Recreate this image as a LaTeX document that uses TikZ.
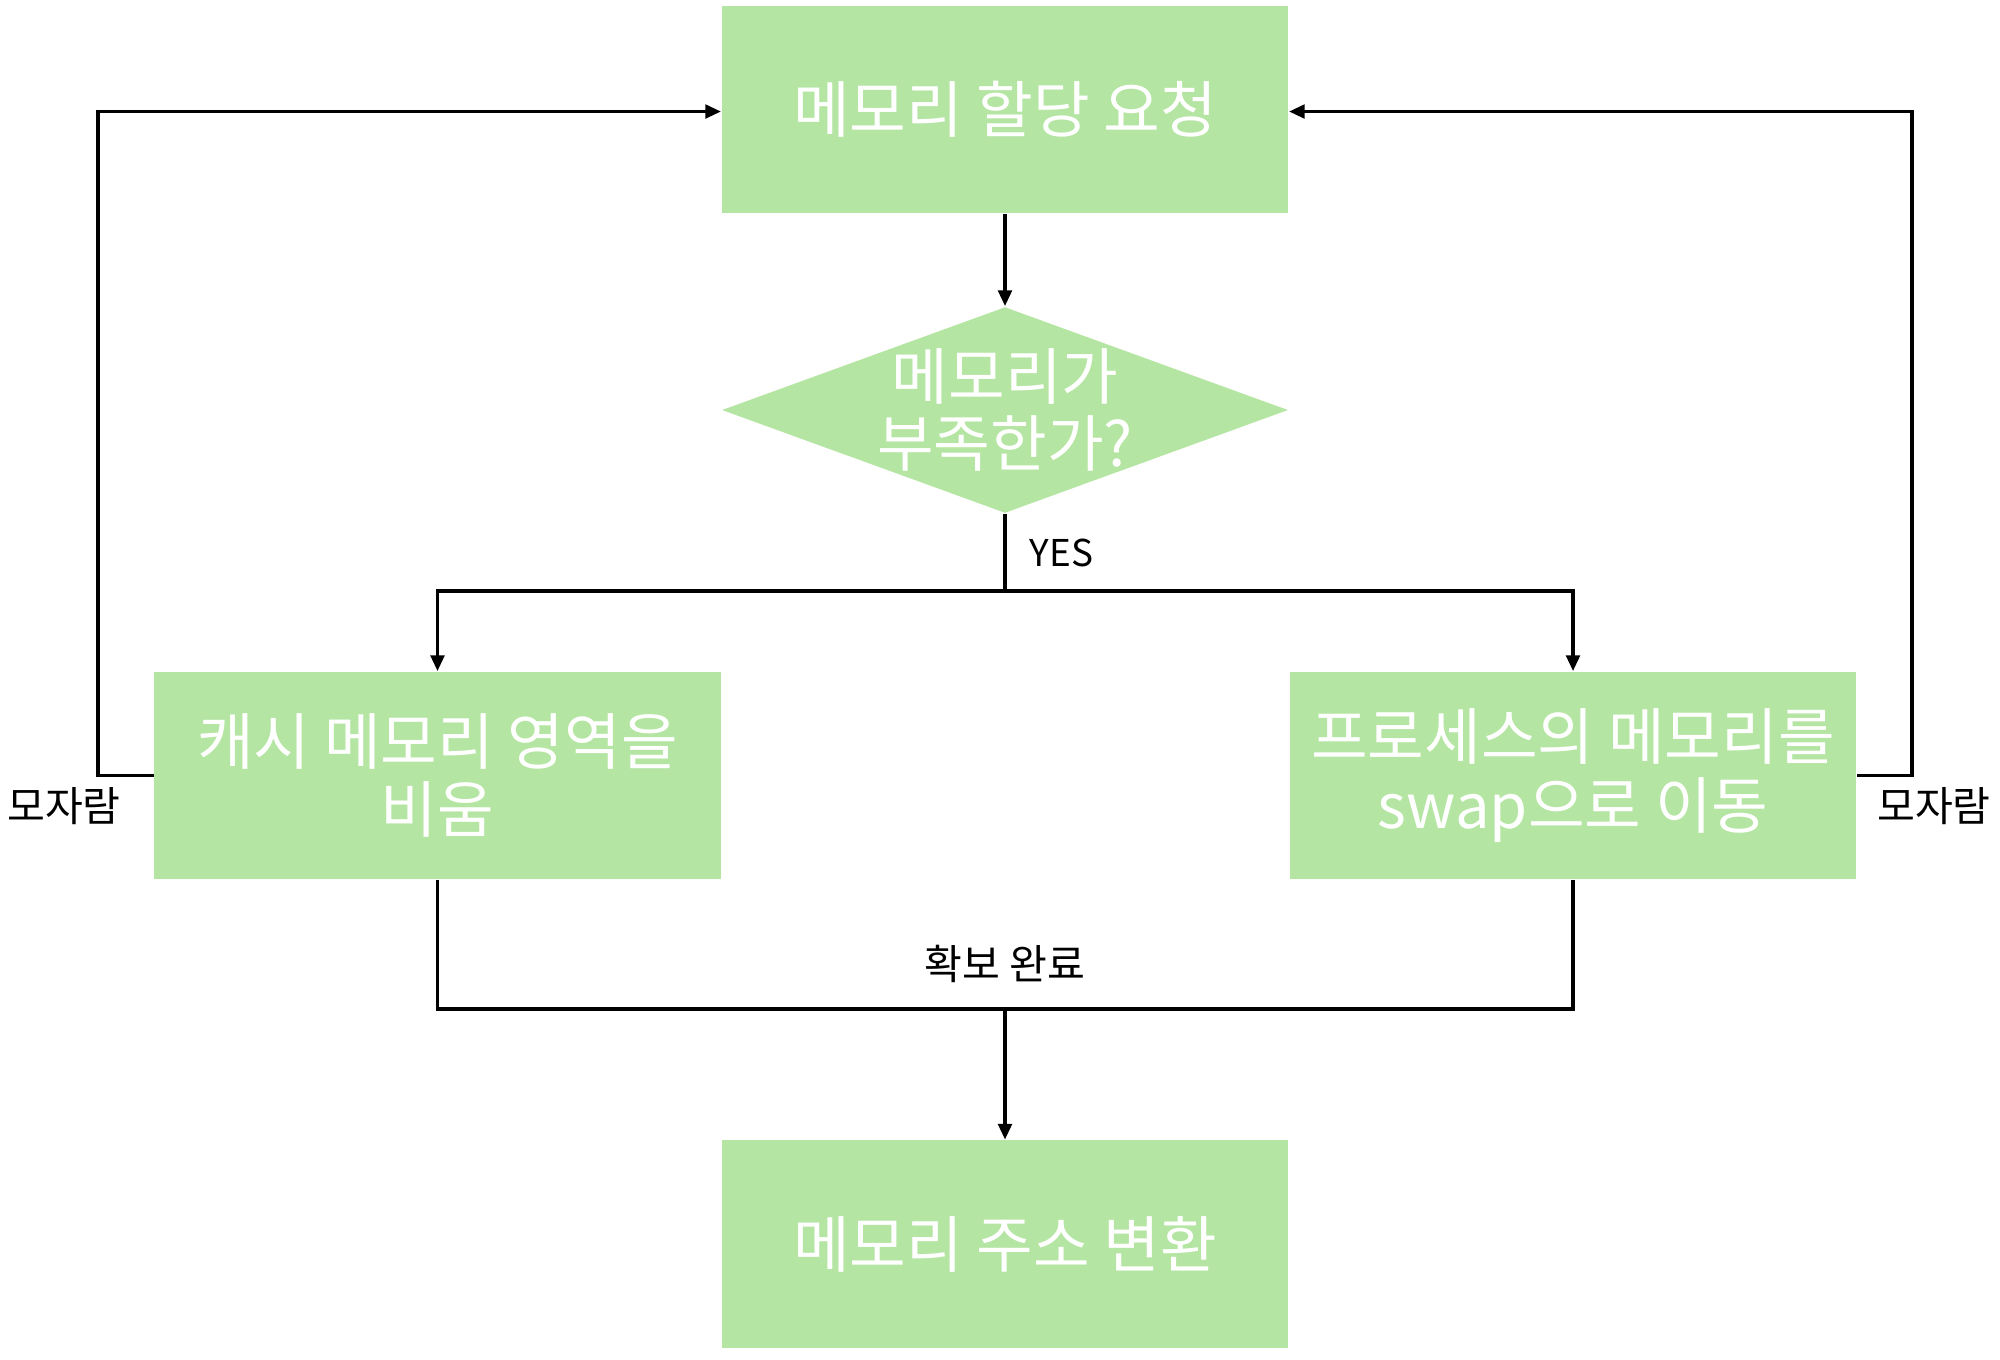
\documentclass[tikz,border=0pt]{standalone}
\usepackage{fontspec}
\setmainfont{Noto Sans CJK KR}
\usetikzlibrary{arrows.meta,shapes.geometric}
\definecolor{boxgreen}{HTML}{B4E5A2}
\tikzset{
  procbox/.style={draw=none,fill=boxgreen,minimum width=5.66cm,minimum height=2.07cm,inner sep=0pt,align=center,text=white,font=\fontsize{17.5}{19.5}\selectfont},
  decbox/.style={diamond,shape aspect=2.75,draw=none,fill=boxgreen,minimum width=5.66cm,minimum height=2.06cm,inner sep=0pt},
  dectext/.style={align=center,text=white,inner sep=0pt,font=\fontsize{17.5}{19}\selectfont},
  conn/.style={line width=1.1pt,black},
  arr/.style={conn,-{Triangle[length=4.5pt,width=3.8pt]}},
  lbl/.style={font=\fontsize{11.7}{13}\selectfont,text=black,inner sep=0pt}
}
\begin{document}
\begin{tikzpicture}[x=0.01cm,y=-0.01cm]
\useasboundingbox (0,0) rectangle (2000,1359);
\node[procbox] (req) at (1005,109.5) {메모리 할당 요청};
\node[decbox] (dec) at (1005,410) {};
\node[dectext] (dect) at (dec.center) {메모리가\\부족한가?};
\node[procbox] (cache) at (437.5,775.5) {캐시 메모리 영역을\\비움};
\node[procbox] (swap) at (1573,775.5) {프로세스의 메모리를\\swap으로 이동};
\node[procbox] (addr) at (1005,1244) {메모리 주소 변환};
\coordinate (split) at (1005,591);
\coordinate (merge) at (1005,1009);
\coordinate (lcorner) at (98,775.5);
\coordinate (rcorner) at (1912,775.5);
\draw[arr] (req) -- (dec);
\draw[conn] (dec.south) -- (split);
\draw[arr] (split) -| (cache.north);
\draw[arr] (split) -| (swap.north);
\draw[conn] (cache.south) |- (merge);
\draw[conn] (swap.south) |- (merge);
\draw[arr] (merge) -- (addr);
\draw[arr] (cache.west) -- (lcorner) |- ([yshift=-0.02cm]req.west);
\draw[arr] (swap.east) -- (rcorner) |- ([yshift=-0.02cm]req.east);
\node[lbl,anchor=west,font=\fontsize{10.5}{12}\selectfont] (yes) at (1029,553) {YES};
\node[lbl] (done) at (1005,964) {확보 완료};
\node[lbl] (lack1) at (64,806) {모자람};
\node[lbl] (lack2) at (1934,806) {모자람};
\end{tikzpicture}
\end{document}
